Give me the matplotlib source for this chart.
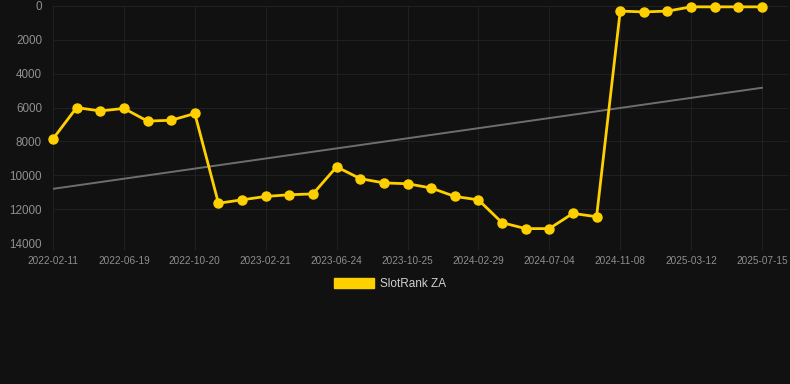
import matplotlib
matplotlib.use("Agg")
import matplotlib.pyplot as plt
from matplotlib.patches import Patch

# Rank values (lower = better, axis inverted)
rank_values = [
    7850, 6000, 6200, 6050, 6800, 6750, 6350,
    11650, 11450, 11250, 11150, 11100, 9500, 10200,
    10450, 10500, 10750, 11250, 11450, 12800, 13150,
    13150, 12250, 12450, 300, 350, 300, 50, 50, 50, 50,
]
tick_labels = [
    "2022-02-11", "2022-06-19", "2022-10-20", "2023-02-21", "2023-06-24",
    "2023-10-25", "2024-02-29", "2024-07-04", "2024-11-08", "2025-03-12",
    "2025-07-15",
]
tick_step = 3
trend_start = 10800
trend_end = 4830
y_ticks = [0, 2000, 4000, 6000, 8000, 10000, 12000, 14000]

plt.rcParams["font.family"] = ["Liberation Sans", "DejaVu Sans"]

BG = "#111111"
YELLOW = "#FFD000"
GRID = "#202020"
TICK_TEXT = "#8f8f8f"

fig = plt.figure(figsize=(7.9, 3.84), dpi=100, facecolor=BG)
# plot area runs a bit past the last point, like the original
ax = fig.add_axes([53 / 790, (384 - 243) / 384, (788 - 53) / 790, 237 / 384])
ax.set_facecolor(BG)

xs = list(range(len(rank_values)))
last = len(rank_values) - 1
step_px = (762 - 53) / last

# trend line
ax.plot([0, last], [trend_start, trend_end], color="#6e6e6e", linewidth=1.4, zorder=2)

ax.plot(xs, rank_values, color=YELLOW, linewidth=2.0, marker="o",
        markersize=6.5, markerfacecolor=YELLOW, markeredgecolor=YELLOW,
        zorder=3, clip_on=False)

ax.set_xlim(0, last + (788 - 762) / step_px)
ax.set_ylim(14000, 0)
ax.set_yticks(y_ticks)
ax.set_yticklabels([str(v) for v in y_ticks])
ax.set_xticks(list(range(0, last + 1, tick_step)))
ax.set_xticklabels(tick_labels)

ax.grid(True, color=GRID, linewidth=0.8)
ax.set_axisbelow(True)
for s in ax.spines.values():
    s.set_visible(False)

ax.tick_params(axis="x", colors=GRID, length=5, width=0.8, pad=4, labelsize=7.2, labelcolor=TICK_TEXT)
ax.tick_params(axis="y", length=0, pad=8, labelsize=8.4, labelcolor=TICK_TEXT)

leg = fig.legend(handles=[Patch(facecolor=YELLOW, edgecolor=YELLOW, label="SlotRank ZA")],
                 loc="center", bbox_to_anchor=(390 / 790, 1 - 284 / 384),
                 frameon=False, fontsize=8.5, handlelength=3.4, handleheight=0.9,
                 handletextpad=0.5)
for t in leg.get_texts():
    t.set_color("#d0d0d0")

fig.savefig("out.png", dpi=100, facecolor=BG)
